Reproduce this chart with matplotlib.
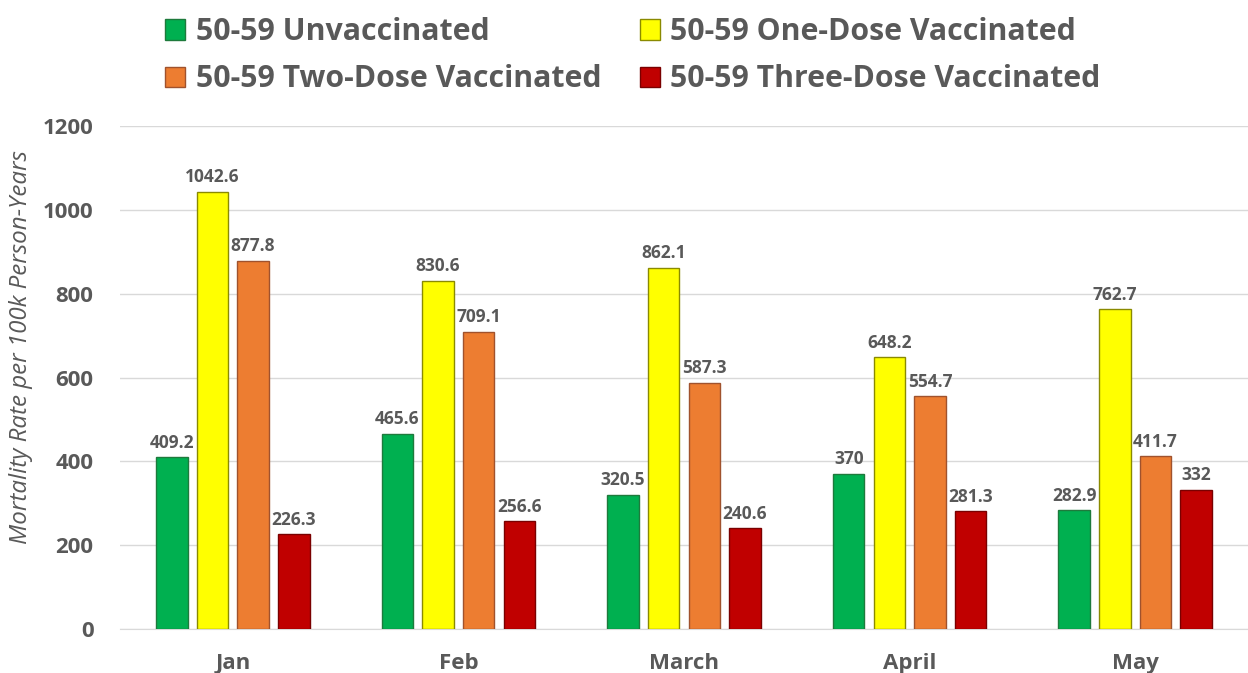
import matplotlib
matplotlib.use("Agg")
import matplotlib.pyplot as plt
import numpy as np

months = ["Jan", "Feb", "March", "April", "May"]
series_names = ["50-59 Unvaccinated", "50-59 One-Dose Vaccinated",
                "50-59 Two-Dose Vaccinated", "50-59 Three-Dose Vaccinated"]
unvacc = [409.2, 465.6, 320.5, 370, 282.9]
one_dose = [1042.6, 830.6, 862.1, 648.2, 762.7]
two_dose = [877.8, 709.1, 587.3, 554.7, 411.7]
three_dose = [226.3, 256.6, 240.6, 281.3, 332]
colors = ["#00B050", "#FFFF00", "#ED7D31", "#C00000"]
edges = ["#1E7A3C", "#8A8A00", "#A0522D", "#7A0000"]

plt.rcParams['font.family'] = ['Open Sans', 'DejaVu Sans']
gray = "#595959"

fig = plt.figure(figsize=(12.48, 6.73), dpi=100)
ax = fig.add_axes([120/1248, 44/673, 1128/1248, 503/673])

x = np.arange(len(months))
step = 0.18
width = 0.14
offsets = [-1.5*step, -0.5*step, 0.5*step, 1.5*step]
handles = []
for vals, name, c, e, off in zip([unvacc, one_dose, two_dose, three_dose],
                                 series_names, colors, edges, offsets):
    bars = ax.bar(x + off, vals, width, color=c, edgecolor=e, linewidth=1,
                  label=name, zorder=3)
    handles.append(bars)
    for xi, v in zip(x + off, vals):
        ax.annotate(f"{v:g}", (xi, v), xytext=(0, 4), textcoords="offset points",
                    ha="center", va="bottom", fontsize=12.5, fontweight="bold",
                    color=gray, zorder=4)

ax.set_xlim(-0.5, 4.5)
ax.set_ylim(0, 1200)
ax.set_yticks(range(0, 1201, 200))
ax.set_xticks(x)
ax.set_xticklabels(months)
ax.grid(axis="y", color="#D9D9D9", linewidth=1, zorder=0)
for s in ["top", "right", "left"]:
    ax.spines[s].set_visible(False)
ax.spines["bottom"].set_color("#D9D9D9")
ax.tick_params(axis="both", length=0, labelcolor=gray, labelsize=16)
ax.tick_params(axis="y", pad=19)
ax.tick_params(axis="x", pad=17)
for lbl in ax.get_xticklabels() + ax.get_yticklabels():
    lbl.set_fontweight("bold")
ax.set_ylabel("Mortality Rate per 100k Person-Years", fontsize=17.4,
              style="italic", color=gray)
ax.yaxis.set_label_coords(-0.077, 0.56)

order = [0, 2, 1, 3]
leg = fig.legend([handles[i] for i in order], [series_names[i] for i in order],
                 loc="upper left", bbox_to_anchor=(138/1248, 1.015), ncol=2,
                 frameon=False, fontsize=21.8, handlelength=0.65, handleheight=0.65,
                 handletextpad=0.35, columnspacing=1.28, labelspacing=0.57)
for t in leg.get_texts():
    t.set_color(gray)
    t.set_fontweight("bold")

fig.savefig("out.png", dpi=100)
